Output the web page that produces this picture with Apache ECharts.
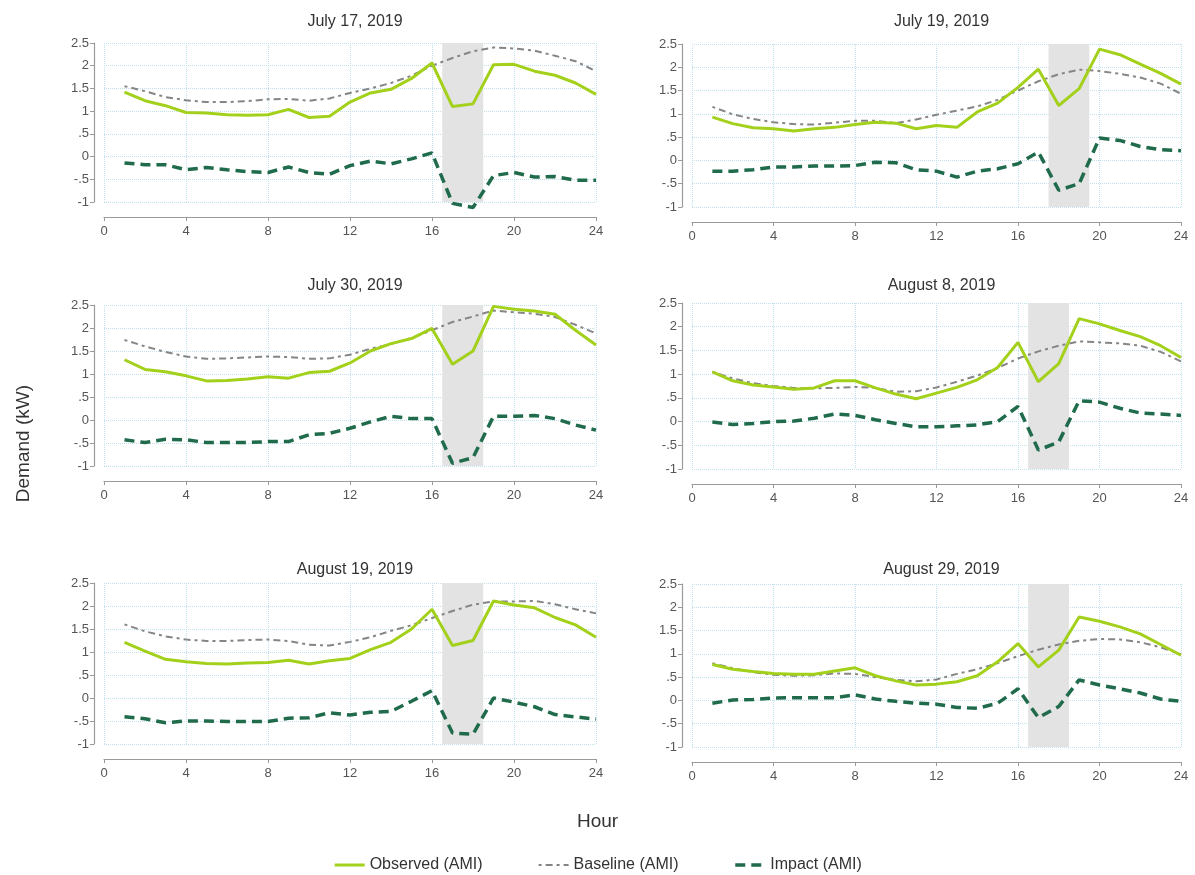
<!DOCTYPE html>
<html>
<head>
<meta charset="utf-8">
<script src="https://cdn.jsdelivr.net/npm/echarts@6/dist/echarts.min.js"></script>
<style>
html,body{margin:0;padding:0;background:#fff;}
#chart{width:1195px;height:875px;}
</style>
</head>
<body>
<div id="chart"></div>
<script>
const hours = [1,2,3,4,5,6,7,8,9,10,11,12,13,14,15,16,17,18,19,20,21,22,23,24];
const panelTitles = ['July 17, 2019','July 19, 2019','July 30, 2019','August 8, 2019','August 19, 2019','August 29, 2019'];
const eventStart = [16.5, 17.5, 16.5, 16.5, 16.5, 16.5];
const eventEnd   = [18.5, 19.5, 18.5, 18.5, 18.5, 18.5];

const observedJul17 = [1.42,1.23,1.12,0.97,0.96,0.92,0.91,0.92,1.04,0.86,0.89,1.2,1.4,1.48,1.72,2.06,1.1,1.16,2.02,2.03,1.88,1.79,1.62,1.37];
const baselineJul17 = [1.55,1.44,1.31,1.24,1.2,1.2,1.22,1.26,1.27,1.23,1.28,1.4,1.5,1.62,1.78,2.0,2.17,2.32,2.4,2.38,2.33,2.22,2.1,1.88];
const impactJul17   = [-0.14,-0.18,-0.18,-0.29,-0.24,-0.29,-0.33,-0.35,-0.23,-0.35,-0.39,-0.2,-0.1,-0.16,-0.05,0.08,-1.03,-1.12,-0.42,-0.35,-0.45,-0.44,-0.52,-0.52];

const observedJul19 = [0.93,0.79,0.7,0.68,0.63,0.68,0.71,0.77,0.82,0.8,0.68,0.75,0.71,1.04,1.23,1.57,1.96,1.18,1.54,2.39,2.27,2.07,1.87,1.64];
const baselineJul19 = [1.15,0.99,0.89,0.82,0.78,0.77,0.81,0.85,0.85,0.8,0.88,0.98,1.07,1.16,1.3,1.5,1.7,1.85,1.95,1.92,1.86,1.78,1.65,1.43];
const impactJul19   = [-0.23,-0.23,-0.2,-0.14,-0.14,-0.12,-0.12,-0.11,-0.04,-0.05,-0.2,-0.23,-0.36,-0.23,-0.18,-0.07,0.18,-0.64,-0.5,0.48,0.43,0.3,0.23,0.21];

const observedJul30 = [1.31,1.1,1.05,0.96,0.85,0.86,0.89,0.94,0.91,1.03,1.06,1.24,1.5,1.66,1.77,1.99,1.21,1.5,2.47,2.41,2.37,2.3,1.95,1.63];
const baselineJul30 = [1.74,1.6,1.48,1.38,1.33,1.34,1.36,1.38,1.37,1.33,1.34,1.42,1.55,1.65,1.78,1.95,2.13,2.25,2.38,2.34,2.31,2.24,2.07,1.88];
const impactJul30   = [-0.43,-0.49,-0.42,-0.43,-0.49,-0.49,-0.49,-0.47,-0.47,-0.32,-0.29,-0.18,-0.04,0.08,0.03,0.03,-0.94,-0.82,0.08,0.08,0.1,0.03,-0.11,-0.22];

const observedAug8 = [1.05,0.86,0.77,0.73,0.68,0.71,0.86,0.86,0.71,0.58,0.48,0.6,0.72,0.88,1.14,1.67,0.84,1.22,2.17,2.06,1.92,1.79,1.6,1.35];
const baselineAug8 = [1.05,0.91,0.81,0.75,0.71,0.7,0.71,0.73,0.71,0.63,0.64,0.72,0.84,0.97,1.13,1.33,1.48,1.6,1.69,1.67,1.65,1.6,1.47,1.27];
const impactAug8   = [-0.01,-0.06,-0.04,0,0.01,0.07,0.16,0.13,0.04,-0.04,-0.11,-0.11,-0.09,-0.07,0.0,0.32,-0.6,-0.43,0.44,0.41,0.28,0.18,0.16,0.13];

const observedAug19 = [1.21,1.02,0.84,0.79,0.75,0.74,0.76,0.77,0.82,0.74,0.81,0.86,1.05,1.21,1.5,1.93,1.14,1.25,2.11,2.02,1.96,1.75,1.59,1.32];
const baselineAug19 = [1.6,1.45,1.34,1.27,1.24,1.24,1.26,1.27,1.24,1.16,1.14,1.22,1.32,1.46,1.58,1.74,1.89,2.03,2.1,2.1,2.11,2.04,1.93,1.84];
const impactAug19   = [-0.41,-0.45,-0.54,-0.5,-0.5,-0.51,-0.51,-0.51,-0.44,-0.43,-0.32,-0.37,-0.31,-0.29,-0.07,0.16,-0.76,-0.79,0,-0.09,-0.19,-0.36,-0.41,-0.46];

const observedAug29 = [0.77,0.67,0.62,0.58,0.56,0.56,0.63,0.7,0.53,0.42,0.33,0.35,0.4,0.53,0.83,1.22,0.72,1.08,1.79,1.7,1.58,1.43,1.2,0.97];
const baselineAug29 = [0.8,0.69,0.61,0.55,0.53,0.54,0.58,0.57,0.5,0.44,0.41,0.45,0.57,0.67,0.8,0.95,1.09,1.2,1.28,1.32,1.31,1.25,1.14,0.99];
const impactAug29   = [-0.06,0.01,0.02,0.05,0.06,0.06,0.06,0.12,0.03,-0.02,-0.06,-0.08,-0.15,-0.17,-0.06,0.25,-0.37,-0.13,0.44,0.33,0.25,0.16,0.03,-0.02];

const observedAll = [observedJul17, observedJul19, observedJul30, observedAug8, observedAug19, observedAug29];
const baselineAll = [baselineJul17, baselineJul19, baselineJul30, baselineAug8, baselineAug19, baselineAug29];
const impactAll   = [impactJul17, impactJul19, impactJul30, impactAug8, impactAug19, impactAug29];

const legendNames = ['Observed (AMI)','Baseline (AMI)','Impact (AMI)'];

const layout = [
  {left:104, top:43,  width:492, height:159},
  {left:692, top:44,  width:489, height:163},
  {left:104, top:305, width:492, height:161},
  {left:692, top:303, width:489, height:166},
  {left:104, top:583, width:492, height:161},
  {left:692, top:584, width:489, height:163}
];
const titleTops = [9, 273, 557];

const FONT = '"Liberation Sans", Arial, Helvetica, sans-serif';
const cObs = '#a3d11b', cBase = '#858585', cImp = '#1f6b4b';
const gridBlue = '#bfe0ec';
const baseDash = [3,4,7,4];
const impDash = [10,6];

const grids = [], xAxes = [], yAxes = [], series = [], titles = [];
layout.forEach((g, i) => {
  grids.push({left:g.left, top:g.top, width:g.width, height:g.height, containLabel:false});
  titles.push({
    text: panelTitles[i],
    left: g.left + g.width/2,
    top: titleTops[Math.floor(i/2)],
    textAlign: 'center',
    textStyle: {fontFamily: FONT, fontSize: 16, fontWeight: 'normal', color: '#333'}
  });
  xAxes.push({
    type:'value', gridIndex:i, min:0, max:24, interval:4, offset:15,
    axisLine:{show:true, onZero:false, lineStyle:{color:'#9a9a9a', width:1.2}},
    axisTick:{show:true, length:4, lineStyle:{color:'#9a9a9a'}},
    axisLabel:{color:'#555', fontSize:13, fontFamily:FONT, margin:8},
    splitLine:{show:true, lineStyle:{color:gridBlue, type:'dotted', width:1}}
  });
  yAxes.push({
    type:'value', gridIndex:i, min:-1, max:2.5, interval:0.5, offset:10,
    axisLine:{show:true, onZero:false, lineStyle:{color:'#9a9a9a', width:1.2}},
    axisTick:{show:true, length:4, lineStyle:{color:'#9a9a9a'}},
    axisLabel:{color:'#555', fontSize:13, fontFamily:FONT, margin:5,
      formatter: v => v === 0 ? '0' : String(v).replace('0.', '.')},
    splitLine:{show:true, lineStyle:{color:gridBlue, type:'dotted', width:1}}
  });
  series.push({
    type:'line', xAxisIndex:i, yAxisIndex:i, data:[], silent:true, z:1,
    markArea:{silent:true, itemStyle:{color:'#e3e3e3'},
      data:[[{xAxis:eventStart[i], yAxis:-1},{xAxis:eventEnd[i], yAxis:2.5}]]}
  });
  series.push({
    name: legendNames[1], type:'line', xAxisIndex:i, yAxisIndex:i, z:3,
    data: hours.map((h,k)=>[h, baselineAll[i][k]]),
    showSymbol:false, symbol:'none', clip:false,
    lineStyle:{color:cBase, width:2, type:baseDash}, itemStyle:{color:cBase}
  });
  series.push({
    name: legendNames[0], type:'line', xAxisIndex:i, yAxisIndex:i, z:4,
    data: hours.map((h,k)=>[h, observedAll[i][k]]),
    showSymbol:false, symbol:'none', clip:false,
    lineStyle:{color:cObs, width:3}, itemStyle:{color:cObs}
  });
  series.push({
    name: legendNames[2], type:'line', xAxisIndex:i, yAxisIndex:i, z:5,
    data: hours.map((h,k)=>[h, impactAll[i][k]]),
    showSymbol:false, symbol:'none', clip:false,
    lineStyle:{color:cImp, width:3.5, type:impDash}, itemStyle:{color:cImp}
  });
});

const chart = echarts.init(document.getElementById('chart'), null, {renderer:'canvas'});
chart.setOption({
  backgroundColor:'#fff',
  animation:false,
  title: titles,
  grid: grids,
  xAxis: xAxes,
  yAxis: yAxes,
  series: series,
  legend: {
    data: legendNames,
    top: 852, left: 'center',
    itemWidth: 30, itemHeight: 14, itemGap: 55,
    itemStyle: {opacity: 0},
    lineStyle: {width: 'inherit'},
    textStyle:{fontFamily:FONT, fontSize:16, color:'#333'}
  },
  graphic: [
    {type:'text', left:'center', top:812, style:{text:'Hour', font:'19px ' + FONT, fill:'#333'}},
    {type:'text', left:14, top:385, rotation:Math.PI/2, style:{text:'Demand (kW)', font:'19px ' + FONT, fill:'#333', textAlign:'center', textVerticalAlign:'middle'}}
  ]
});
</script>
</body>
</html>
